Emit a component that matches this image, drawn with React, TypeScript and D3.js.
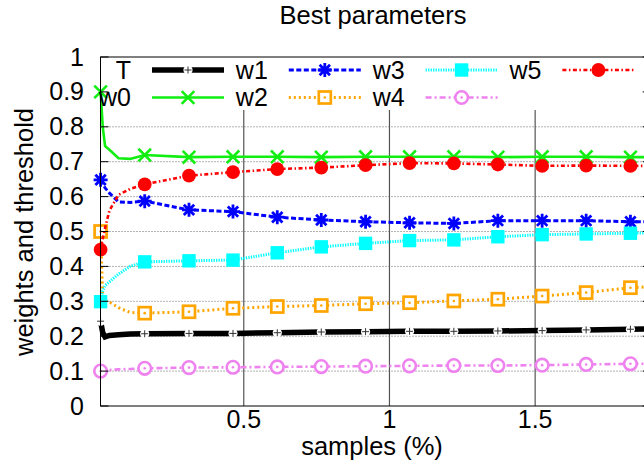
import * as d3 from 'd3';
import {useEffect, useRef} from "react";

// sample positions (% of samples); markers are drawn on a subset of them
const sampleX = [0.0086, 0.016, 0.024, 0.039, 0.07, 0.11, 0.160, 0.312, 0.463, 0.615, 0.766, 0.918, 1.069, 1.221, 1.372, 1.524, 1.675, 1.827, 1.90];
const markerIdx = [0, 6, 7, 8, 9, 10, 11, 12, 13, 14, 15, 16, 17];

const tValues  = [0.243, 0.21, 0.198, 0.202, 0.204, 0.206, 0.207, 0.208, 0.208, 0.21, 0.212, 0.213, 0.214, 0.214, 0.215, 0.216, 0.218, 0.22, 0.221];
const w0Values = [0.90, 0.80, 0.745, 0.734, 0.71, 0.708, 0.719, 0.713, 0.714, 0.714, 0.713, 0.714, 0.714, 0.714, 0.713, 0.714, 0.714, 0.713, 0.713];
const w1Values = [0.648, 0.637, 0.625, 0.61, 0.585, 0.583, 0.587, 0.562, 0.557, 0.541, 0.533, 0.528, 0.525, 0.523, 0.531, 0.531, 0.531, 0.528, 0.528];
const w2Values = [0.50, 0.31, 0.303, 0.298, 0.282, 0.268, 0.266, 0.27, 0.28, 0.285, 0.288, 0.293, 0.296, 0.301, 0.306, 0.315, 0.325, 0.339, 0.342];
const w3Values = [0.299, 0.33, 0.345, 0.356, 0.378, 0.40, 0.413, 0.416, 0.418, 0.439, 0.456, 0.466, 0.474, 0.476, 0.485, 0.491, 0.493, 0.495, 0.496];
const w4Values = [0.10, 0.101, 0.102, 0.103, 0.105, 0.106, 0.108, 0.11, 0.111, 0.112, 0.113, 0.114, 0.115, 0.116, 0.116, 0.117, 0.119, 0.121, 0.121];
const w5Values = [0.448, 0.48, 0.51, 0.56, 0.605, 0.622, 0.635, 0.66, 0.67, 0.679, 0.683, 0.69, 0.696, 0.695, 0.692, 0.688, 0.689, 0.688, 0.688];

const seriesNames = ["T", "w0", "w1", "w2", "w3", "w4", "w5"];
const yTicks = [0, 0.1, 0.2, 0.3, 0.4, 0.5, 0.6, 0.7, 0.8, 0.9, 1];
const yTickLabels = ["0", "0.1", "0.2", "0.3", "0.4", "0.5", "0.6", "0.7", "0.8", "0.9", "1"];
const xTicks = [0.5, 1, 1.5];
const xTickLabels = ["0.5", "1", "1.5"];

const FONT = "'Liberation Sans', Arial, Helvetica, sans-serif";

export default function App() {
    const svgRef = useRef(null);

    const width = 644;
    const height = 463;
    const frame = {left: 100.5, right: 651.7, top: 57, bottom: 406};

    useEffect(() => {
        const svg = d3.select(svgRef.current)
            .attr('width', width)
            .attr('height', height);
        svg.selectAll("*").remove();

        const xScale = d3.scaleLinear().domain([0.0083, 1.9]).range([frame.left, frame.right]);
        const yScale = d3.scaleLinear().domain([0, 1]).range([frame.bottom, frame.top]);

        const values = [tValues, w0Values, w1Values, w2Values, w3Values, w4Values, w5Values];
        const styles = [
            {color: "#000000", width: 5.5, dash: null, marker: "plus"},
            {color: "#11ee11", width: 2.6, dash: null, marker: "cross"},
            {color: "#0000ff", width: 3, dash: "5,2.5", marker: "star"},
            {color: "#ffa500", width: 3, dash: "2,3", marker: "openSquare"},
            {color: "#00ffff", width: 3, dash: "1.3,1.2", marker: "fillSquare"},
            {color: "#ee82ee", width: 2.6, dash: "6,3,2,3", marker: "openCircle"},
            {color: "#ff0000", width: 2.6, dash: "4,2.5,1.5,2.5", marker: "fillCircle"},
        ];

        const drawMarker = (g, type, x, y, color) => {
            if (type === "plus") {
                g.append("circle").attr("cx", x).attr("cy", y).attr("r", 4.6).attr("fill", "#fff");
                g.append("path").attr("d", `M${x - 3.5},${y}H${x + 3.5}M${x},${y - 3.5}V${y + 3.5}`)
                    .attr("stroke", "#333").attr("stroke-width", 1).attr("fill", "none");
            } else if (type === "cross") {
                const s = 6.3;
                g.append("path").attr("d", `M${x - s},${y - s}L${x + s},${y + s}M${x - s},${y + s}L${x + s},${y - s}`)
                    .attr("stroke", color).attr("stroke-width", 2.6).attr("fill", "none");
            } else if (type === "star") {
                const s = 7, c = 5.2;
                g.append("path").attr("d", `M${x - s},${y}H${x + s}M${x},${y - s}V${y + s}M${x - c},${y - c}L${x + c},${y + c}M${x - c},${y + c}L${x + c},${y - c}`)
                    .attr("stroke", color).attr("stroke-width", 2.8).attr("fill", "none");
            } else if (type === "openSquare") {
                g.append("rect").attr("x", x - 6).attr("y", y - 6).attr("width", 12).attr("height", 12)
                    .attr("fill", "#fff").attr("stroke", color).attr("stroke-width", 2.7);
                g.append("circle").attr("cx", x).attr("cy", y).attr("r", 1.3).attr("fill", color);
            } else if (type === "fillSquare") {
                g.append("rect").attr("x", x - 6.7).attr("y", y - 6.7).attr("width", 13.4).attr("height", 13.4)
                    .attr("fill", color);
            } else if (type === "openCircle") {
                g.append("circle").attr("cx", x).attr("cy", y).attr("r", 6.3)
                    .attr("fill", "#fff").attr("stroke", color).attr("stroke-width", 2.6);
                g.append("circle").attr("cx", x).attr("cy", y).attr("r", 1.3).attr("fill", color);
            } else if (type === "fillCircle") {
                g.append("circle").attr("cx", x).attr("cy", y).attr("r", 6.9).attr("fill", color);
            }
        };

        // horizontal dotted grid
        svg.append("g").selectAll("line")
            .data(yTicks.filter(t => t > 0 && t < 1))
            .enter().append("line")
            .attr("x1", frame.left).attr("x2", frame.right)
            .attr("y1", d => yScale(d)).attr("y2", d => yScale(d))
            .attr("stroke", "#666").attr("stroke-width", 1).attr("stroke-dasharray", "1,2");

        // vertical grid
        svg.append("g").selectAll("line")
            .data(xTicks)
            .enter().append("line")
            .attr("x1", d => xScale(d)).attr("x2", d => xScale(d))
            .attr("y1", frame.top).attr("y2", frame.bottom)
            .attr("stroke", "#555").attr("stroke-width", 1.2);

        // key background
        svg.append("rect")
            .attr("x", frame.left).attr("y", frame.top)
            .attr("width", frame.right - frame.left).attr("height", 53)
            .attr("fill", "#fff");

        // series
        const line = d3.line().x(d => xScale(d[0])).y(d => yScale(d[1]));
        values.forEach((vals, i) => {
            const st = styles[i];
            const pts = sampleX.map((x, j) => [x, vals[j]]);
            const g = svg.append("g");
            g.append("path")
                .attr("d", line(pts))
                .attr("fill", "none")
                .attr("stroke", st.color)
                .attr("stroke-width", st.width)
                .attr("stroke-dasharray", st.dash)
                .attr("stroke-linejoin", "miter");
            markerIdx.forEach(j => drawMarker(g, st.marker, xScale(sampleX[j]), yScale(vals[j]), st.color));
        });

        // key entries, filled column by column
        const key = svg.append("g");
        seriesNames.forEach((name, i) => {
            const st = styles[i];
            const col = Math.floor(i / 2);
            const row = i % 2;
            const textEnd = 131 + col * 136.8;
            const ry = row === 0 ? 70 : 97.5;
            key.append("text")
                .attr("x", textEnd).attr("y", ry + 8.8)
                .attr("text-anchor", "end")
                .attr("font-family", FONT).attr("font-size", 25)
                .text(name);
            const x1 = textEnd + 21, x2 = textEnd + 93;
            key.append("line")
                .attr("x1", x1).attr("x2", x2).attr("y1", ry).attr("y2", ry)
                .attr("stroke", st.color).attr("stroke-width", st.width)
                .attr("stroke-dasharray", st.dash);
            drawMarker(key, st.marker, (x1 + x2) / 2, ry, st.color);
        });

        // frame
        svg.append("rect")
            .attr("x", frame.left).attr("y", frame.top)
            .attr("width", frame.right - frame.left).attr("height", frame.bottom - frame.top)
            .attr("fill", "none").attr("stroke", "#000").attr("stroke-width", 1);

        // y ticks (both sides, inward)
        const yt = svg.append("g");
        yTicks.forEach((t, i) => {
            const y = yScale(t);
            yt.append("line").attr("x1", frame.left).attr("x2", frame.left + 8).attr("y1", y).attr("y2", y)
                .attr("stroke", "#000");
            yt.append("line").attr("x1", frame.right - 9).attr("x2", frame.right).attr("y1", y).attr("y2", y)
                .attr("stroke", "#000");
            yt.append("text")
                .attr("x", 84).attr("y", y).attr("dy", "0.34em")
                .attr("text-anchor", "end")
                .attr("font-family", FONT).attr("font-size", 25)
                .text(yTickLabels[i]);
        });

        // x tick labels
        svg.append("g").selectAll("text")
            .data(xTicks)
            .enter().append("text")
            .attr("x", d => xScale(d)).attr("y", 428)
            .attr("text-anchor", "middle")
            .attr("font-family", FONT).attr("font-size", 25)
            .text((d, i) => xTickLabels[i]);

        // titles
        svg.append("text")
            .attr("x", 373).attr("y", 23.5)
            .attr("text-anchor", "middle")
            .attr("font-family", FONT).attr("font-size", 25.5)
            .text("Best parameters");

        svg.append("text")
            .attr("x", 372).attr("y", 455)
            .attr("text-anchor", "middle")
            .attr("font-family", FONT).attr("font-size", 25.5)
            .text("samples (%)");

        svg.append("text")
            .attr("transform", `translate(33,232) rotate(-90)`)
            .attr("text-anchor", "middle")
            .attr("font-family", FONT).attr("font-size", 25.5)
            .text("weights and threshold");

        return () => {};
    }, []);

    return (
        <div style={{position: "absolute", left: 0, top: 0, width: 644, height: 463, background: "#fff"}}>
            <svg ref={svgRef} viewBox="0 0 644 463" style={{display: "block"}}></svg>
        </div>
    );
}
